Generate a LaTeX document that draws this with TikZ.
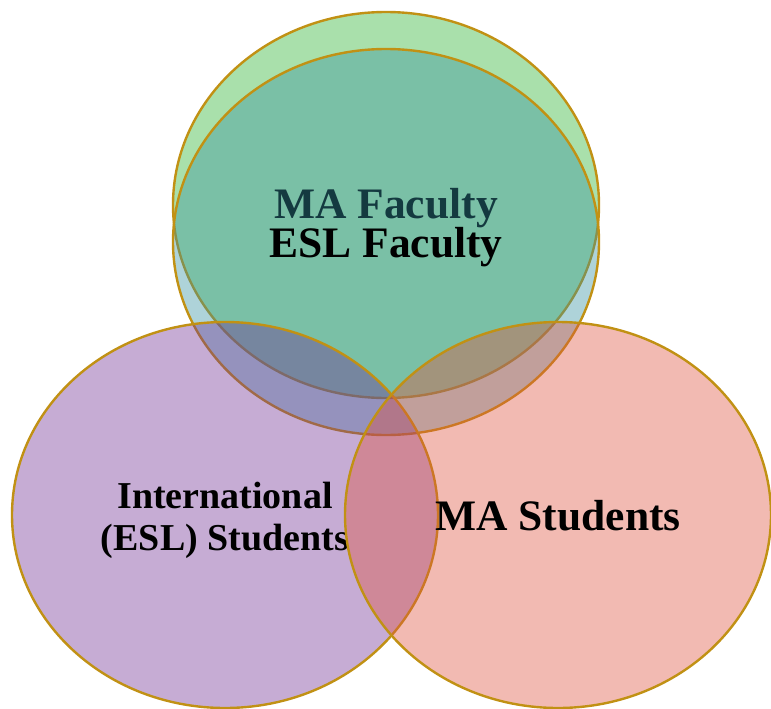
\documentclass[tikz,border=0pt]{standalone}
\usepackage{fontspec}
\setmainfont{Liberation Serif}
\usetikzlibrary{shapes.geometric}
\definecolor{rimgold}{RGB}{193,145,20}
\definecolor{fgreen}{RGB}{40,178,45}
\definecolor{fblue}{RGB}{52,145,160}
\definecolor{fpurple}{RGB}{112,48,148}
\definecolor{fpink}{RGB}{222,82,62}
% text whose baseline sits #1 below the node centre
\newcommand{\lowtext}[2]{\raisebox{-#1}[0pt][0pt]{#2}}
\begin{document}
\begin{tikzpicture}[x=1pt,y=-1pt,
    every node/.style={ellipse,draw=rimgold,line width=2.4pt,fill opacity=0.4,text opacity=1,
        minimum width=426pt,minimum height=386pt,inner sep=0pt,align=center,
        font=\bfseries\fontsize{43.5}{48}\selectfont}]
    \useasboundingbox (0,0) rectangle (771,709);
    \node[fill=fgreen] (mafac) at (386,205) {\lowtext{13pt}{MA Faculty}};
    \node[fill=fblue] (eslfac) at (386,242) {\lowtext{15pt}{ESL Faculty}};
    \node[fill=fpurple,font=\bfseries\fontsize{38}{42}\selectfont] (intl) at (225,515)
        {\lowtext{35pt}{\begin{tabular}[b]{@{}c@{}}International\\(ESL) Students\end{tabular}}};
    \node[fill=fpink] (mastu) at (558,515) {\lowtext{15pt}{MA Students}};
\end{tikzpicture}
\end{document}
